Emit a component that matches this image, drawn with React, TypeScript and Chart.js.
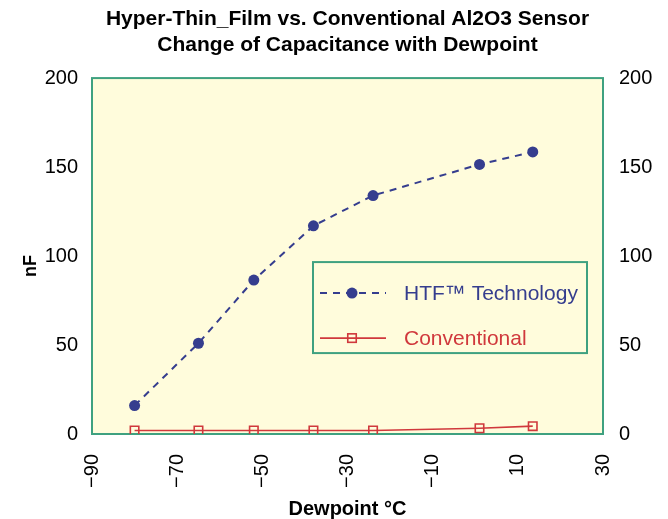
import React, { useEffect, useRef } from "react";
import { Chart, registerables } from "chart.js";

Chart.register(...registerables);

// ---- data ----
const dewpoints = [-80, -65, -52, -38, -24, 1, 13.5];
const htfValues = [16, 51, 86.5, 117, 134, 151.5, 158.5];
const conventionalValues = [2, 2, 2, 2, 2, 3.2, 4.4];
const seriesLabels = ["HTF\u2122 Technology", "Conventional"];
const titleLines = [
  "Hyper-Thin_Film vs. Conventional Al2O3 Sensor",
  "Change of Capacitance with Dewpoint",
];
const xTitle = "Dewpoint \u00B0C";
const yTitle = "nF";
const xRange = [-90, 30, 20];
const yRange = [0, 200, 50];

// ---- styles ----
const FONT = "Arial, 'Liberation Sans', Helvetica, sans-serif";
const NAVY = "#353D8E";
const RED = "#D0383C";
const GREEN = "#3FA180";
const PLOT_BG = "#FFFCDC";

const plotFrame = {
  id: "plotFrame",
  beforeDraw(chart: any) {
    const { ctx, chartArea } = chart;
    ctx.save();
    ctx.fillStyle = "#ffffff";
    ctx.fillRect(0, 0, chart.width, chart.height);
    ctx.fillStyle = PLOT_BG;
    ctx.fillRect(chartArea.left, chartArea.top, chartArea.width, chartArea.height);
    ctx.restore();
  },
  beforeDatasetsDraw(chart: any) {
    const { ctx, chartArea } = chart;
    ctx.save();
    ctx.strokeStyle = GREEN;
    ctx.lineWidth = 2;
    ctx.strokeRect(chartArea.left, chartArea.top, chartArea.width, chartArea.height);
    ctx.restore();
  },
};

const innerLegend = {
  id: "innerLegend",
  afterDatasetsDraw(chart: any) {
    const { ctx, chartArea } = chart;
    const bx = chartArea.left + 221;
    const by = chartArea.top + 184;
    const bw = 274;
    const bh = 91;
    ctx.save();
    ctx.fillStyle = PLOT_BG;
    ctx.fillRect(bx, by, bw, bh);
    ctx.strokeStyle = GREEN;
    ctx.lineWidth = 2;
    ctx.strokeRect(bx, by, bw, bh);
    const rows = [31, 76];
    chart.data.datasets.forEach((ds: any, i: number) => {
      const y = by + rows[i];
      const x0 = bx + 7;
      const x1 = bx + 73;
      const xm = bx + 39;
      ctx.save();
      ctx.strokeStyle = ds.borderColor;
      ctx.lineWidth = ds.borderWidth;
      ctx.setLineDash(ds.borderDash || []);
      ctx.beginPath();
      ctx.moveTo(x0, y);
      ctx.lineTo(x1, y);
      ctx.stroke();
      ctx.setLineDash([]);
      if (ds.pointStyle === "circle") {
        ctx.fillStyle = ds.pointBackgroundColor;
        ctx.beginPath();
        ctx.arc(xm, y, ds.pointRadius, 0, Math.PI * 2);
        ctx.fill();
      } else {
        const s = ds.pointRadius * Math.SQRT1_2;
        ctx.strokeStyle = ds.pointBorderColor;
        ctx.lineWidth = ds.pointBorderWidth;
        ctx.strokeRect(xm - s, y - s, 2 * s, 2 * s);
      }
      ctx.restore();
      ctx.fillStyle = ds.borderColor;
      ctx.font = `21px ${FONT}`;
      ctx.textBaseline = "middle";
      ctx.textAlign = "left";
      ctx.fillText(ds.label, bx + 91, y + 1);
    });
    ctx.restore();
  },
};

export default function App() {
  const ref = useRef<HTMLCanvasElement | null>(null);

  useEffect(() => {
    if (!ref.current) return;
    const tickFont = { family: FONT, size: 20 };
    const chart = new Chart(ref.current, {
      type: "line",
      data: {
        datasets: [
          {
            label: seriesLabels[0],
            data: dewpoints.map((x, i) => ({ x, y: htfValues[i] })),
            borderColor: NAVY,
            borderWidth: 2,
            borderDash: [7, 6],
            pointStyle: "circle",
            pointRadius: 5.5,
            pointBackgroundColor: NAVY,
            pointBorderColor: NAVY,
            pointBorderWidth: 0,
            fill: false,
            tension: 0,
          },
          {
            label: seriesLabels[1],
            data: dewpoints.map((x, i) => ({ x, y: conventionalValues[i] })),
            borderColor: RED,
            borderWidth: 1.6,
            pointStyle: "rect",
            pointRadius: 6,
            pointBackgroundColor: "rgba(0,0,0,0)",
            pointBorderColor: RED,
            pointBorderWidth: 1.6,
            fill: false,
            tension: 0,
          },
        ] as any,
      },
      options: {
        animation: false,
        responsive: false,
        devicePixelRatio: 1,
        layout: { padding: 0 },
        plugins: {
          legend: { display: false },
          tooltip: { enabled: false },
          title: {
            display: true,
            text: titleLines,
            fullSize: false,
            color: "#000",
            font: { family: FONT, size: 21, weight: "bold", lineHeight: 1.24 },
            padding: { top: 6, bottom: 20 },
          },
        },
        scales: {
          x: {
            type: "linear",
            position: "bottom",
            min: xRange[0],
            max: xRange[1],
            grid: { display: false, drawTicks: false },
            border: { display: false },
            ticks: {
              stepSize: xRange[2],
              maxRotation: 90,
              minRotation: 90,
              padding: 20,
              color: "#000",
              font: tickFont,
              callback: (v: any) => String(v).replace("-", "\u2212"),
            },
            title: {
              display: true,
              text: xTitle,
              color: "#000",
              font: { family: FONT, size: 20, weight: "bold", lineHeight: 1.0 },
              padding: { top: 0, bottom: 0 },
            },
            afterFit(scale: any) {
              scale.height = 85;
            },
          },
          y: {
            type: "linear",
            position: "left",
            min: yRange[0],
            max: yRange[1],
            grid: { display: false, drawTicks: false },
            border: { display: false },
            ticks: { stepSize: yRange[2], padding: 14, color: "#000", font: tickFont },
            title: {
              display: true,
              text: yTitle + "    ",
              color: "#000",
              font: { family: FONT, size: 18, weight: "bold" },
              padding: { top: 20, bottom: 0 },
            },
            afterFit(scale: any) {
              scale.width = 92;
            },
          },
          y2: {
            type: "linear",
            position: "right",
            min: yRange[0],
            max: yRange[1],
            grid: { display: false, drawTicks: false },
            border: { display: false },
            ticks: { stepSize: yRange[2], padding: 16, color: "#000", font: tickFont },
            afterFit(scale: any) {
              scale.width = 65;
            },
          },
        },
      } as any,
      plugins: [plotFrame, innerLegend],
    });
    return () => chart.destroy();
  }, []);

  return (
    <div style={{ position: "fixed", left: 0, top: 0, width: 668, height: 519, background: "#fff" }}>
      <canvas ref={ref} width={668} height={519} />
    </div>
  );
}
